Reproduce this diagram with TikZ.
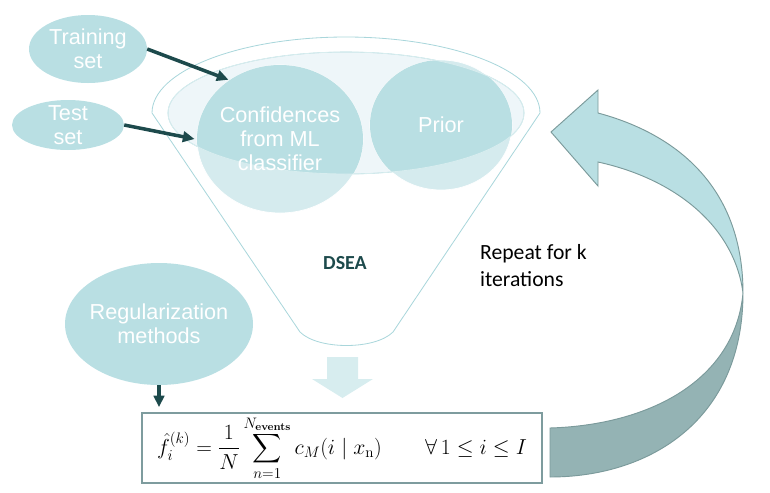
\documentclass[tikz,border=0pt]{standalone}
\usepackage{fix-cm}
\usepackage{amsmath}
\usepackage{exscale}
\usepackage[no-math]{fontspec}
\setmainfont{Liberation Sans}
\newfontfamily\calibri{Carlito}
\usetikzlibrary{arrows.meta,shapes.geometric}
\definecolor{bubble}{HTML}{B9DFE3}
\definecolor{bubblelow}{HTML}{D5EBEE}
\definecolor{funnelline}{HTML}{A9D6DB}
\definecolor{rim}{HTML}{EEF6F9}
\definecolor{darkteal}{HTML}{1D4A4C}
\definecolor{pour}{HTML}{D7EDEF}
\definecolor{boxline}{HTML}{7E9C9E}
\definecolor{loopdark}{HTML}{94B3B4}
\definecolor{loopline}{HTML}{7B9A9B}
\begin{document}
\begin{tikzpicture}[x=0.03cm,y=-0.03cm,
  every node/.style={font=\fontsize{18.5}{20.5}\selectfont},
  bubbletext/.style={shape=ellipse,inner sep=0pt,align=center,text=white},
  feed/.style={-{Triangle[length=10pt,width=9pt]},line width=3pt,darkteal}]
  \useasboundingbox (0,0) rectangle (770,492);
  % funnel
  \draw[funnelline,line width=0.7pt] (540,113) arc[start angle=0,end angle=-180,x radius=194,y radius=76] -- (300,332) .. controls (318,350) and (375,350) .. (393,332) -- cycle;
  \filldraw[fill=rim,draw=funnelline,line width=0.5pt] (346,113) ellipse[x radius=178,y radius=61];
  \filldraw[fill=bubblelow,draw=white,line width=0.6pt] (280,139) ellipse[x radius=83,y radius=74];
  \filldraw[fill=bubblelow,draw=white,line width=0.6pt] (441,125) ellipse[x radius=71,y radius=65];
  \begin{scope}
    \clip (346,113) ellipse[x radius=178,y radius=61];
    \fill[bubble] (280,139) ellipse[x radius=83,y radius=74];
    \fill[bubble] (441,125) ellipse[x radius=71,y radius=65];
  \end{scope}
  \draw[white!55!funnelline,line width=0.7pt] (346,113) ellipse[x radius=178,y radius=61];
  \node[bubbletext,minimum width=4.98cm,minimum height=4.44cm] (conf) at (280,139) {Confidences\\from ML\\classifier};
  \node[bubbletext,minimum width=4.26cm,minimum height=3.9cm] (prior) at (441,125) {Prior};
  \node[font=\calibri\bfseries\fontsize{17}{20}\selectfont,text=darkteal] (dsea) at (345,263) {DSEA};
  % inputs
  \fill[bubble] (88,49) ellipse[x radius=59,y radius=34];
  \node[bubbletext,minimum width=3.54cm,minimum height=2.04cm] (train) at (88,49) {Training\\set};
  \fill[bubble] (68,125) ellipse[x radius=56,y radius=25];
  \node[bubbletext,minimum width=3.36cm,minimum height=1.5cm] (test) at (68,125) {Test\\set};
  \fill[bubble] (159,324) ellipse[x radius=94,y radius=61];
  \node[bubbletext,minimum width=5.64cm,minimum height=3.66cm] (reg) at (159,324) {Regularization\\methods};
  \draw[feed] (train.east) -- (conf.131);
  \draw[feed] (test.east) -- (conf.west);
  % output
  \fill[pour] (327,357) -- (358,357) -- (358,379) -- (373,379) -- (342.5,398) -- (312,379) -- (327,379) -- cycle;
  \node[draw=boxline,line width=1.8pt,minimum width=12cm,minimum height=2.1cm,inner sep=0pt,font=\fontsize{18.5}{21}\selectfont] (formula) at (342,448)
    {$\displaystyle {\hat{f}_i}^{(k)} = \frac{1}{N}\sum_{n=1}^{N_{\mathbf{events}}} c_M(i \mid x_{\mathrm{n}}) \qquad \forall\, 1 \leq i \leq I$};
  \draw[feed,shorten >=4pt] (reg.south) -- (reg.south |- formula.north);
  % loop back
  \filldraw[fill=bubble,draw=loopline,line width=0.8pt] (598,113) .. controls (680,135) and (743,190) .. (743,293) .. controls (735,230) and (680,180) .. (598,162) -- (598,186) -- (551,132) -- (598,90) -- cycle;
  \filldraw[fill=loopdark,draw=loopline,line width=0.8pt] (743,293) .. controls (743,420) and (650,477) .. (550,477) -- (550,428) .. controls (650,425) and (735,380) .. (743,293) -- cycle;
  \node[font=\calibri\fontsize{18.5}{23}\selectfont,align=left,anchor=west] (repeat) at (476,266) {Repeat for k\\iterations};
\end{tikzpicture}
\end{document}
